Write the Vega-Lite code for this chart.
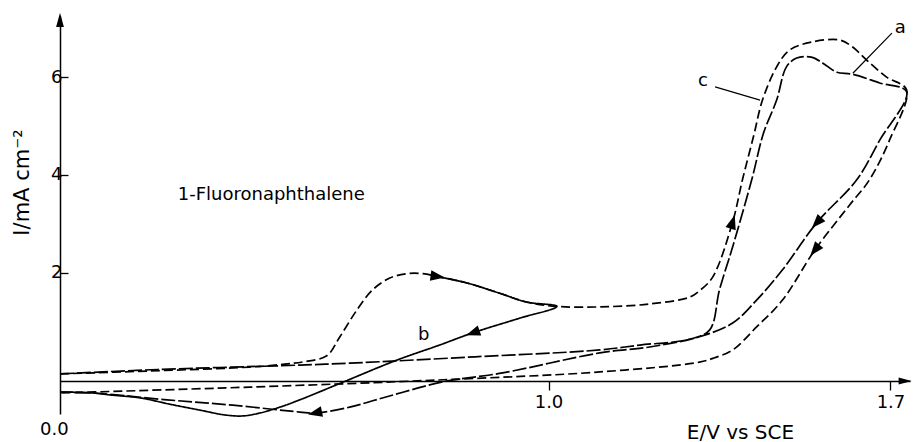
{
  "$schema": "https://vega.github.io/schema/vega-lite/v6.json",
  "width": 850,
  "height": 398,
  "autosize": "none",
  "padding": {"left": 60, "top": 16, "right": 4, "bottom": 28},
  "background": "white",
  "config": {"view": {"stroke": null}},
  "datasets": {
    "curves": [
      {"s":"c","V":0,"I":-0.07},{"s":"c","V":0.184,"I":-0.01},{"s":"c","V":0.389,"I":0.07},{"s":"c","V":0.46,"I":0.13},{"s":"c","V":0.50,"I":0.18},{"s":"c","V":0.546,"I":0.30},{"s":"c","V":0.573,"I":0.69},{"s":"c","V":0.608,"I":1.24},{"s":"c","V":0.640,"I":1.65},{"s":"c","V":0.675,"I":1.89},{"s":"c","V":0.710,"I":1.98},{"s":"c","V":0.743,"I":1.98},{"s":"c","V":0.773,"I":1.92},{"s":"c","V":0.833,"I":1.79},{"s":"c","V":0.900,"I":1.58},{"s":"c","V":0.955,"I":1.40},{"s":"c","V":1.017,"I":1.31},{"s":"c","V":1.105,"I":1.30},{"s":"c","V":1.207,"I":1.36},{"s":"c","V":1.289,"I":1.50},{"s":"c","V":1.309,"I":1.63},{"s":"c","V":1.336,"I":1.91},{"s":"c","V":1.377,"I":3.04},{"s":"c","V":1.397,"I":3.90},{"s":"c","V":1.420,"I":4.80},{"s":"c","V":1.438,"I":5.53},{"s":"c","V":1.467,"I":6.21},{"s":"c","V":1.493,"I":6.55},{"s":"c","V":1.540,"I":6.72},{"s":"c","V":1.596,"I":6.76},{"s":"c","V":1.622,"I":6.62},{"s":"c","V":1.651,"I":6.35},{"s":"c","V":1.692,"I":6.00},{"s":"c","V":1.733,"I":5.74},{"s":"c","V":1.698,"I":4.71},{"s":"c","V":1.657,"I":3.90},{"s":"c","V":1.616,"I":3.38},{"s":"c","V":1.545,"I":2.46},{"s":"c","V":1.479,"I":1.44},{"s":"c","V":1.426,"I":0.89},{"s":"c","V":1.377,"I":0.42},{"s":"c","V":1.340,"I":0.26},{"s":"c","V":1.309,"I":0.17},{"s":"c","V":1.105,"I":-0.03},{"s":"c","V":0.784,"I":-0.19},{"s":"c","V":0.389,"I":-0.34},{"s":"c","V":0,"I":-0.46},
      {"s":"a","V":0,"I":-0.07},{"s":"a","V":0.20,"I":0.02},{"s":"a","V":0.491,"I":0.11},{"s":"a","V":0.593,"I":0.15},{"s":"a","V":0.85,"I":0.28},{"s":"a","V":1.105,"I":0.42},{"s":"a","V":1.187,"I":0.52},{"s":"a","V":1.289,"I":0.64},{"s":"a","V":1.330,"I":0.83},{"s":"a","V":1.350,"I":1.65},{"s":"a","V":1.377,"I":2.53},{"s":"a","V":1.416,"I":3.90},{"s":"a","V":1.440,"I":4.85},{"s":"a","V":1.467,"I":5.53},{"s":"a","V":1.487,"I":6.21},{"s":"a","V":1.508,"I":6.39},{"s":"a","V":1.538,"I":6.41},{"s":"a","V":1.561,"I":6.29},{"s":"a","V":1.590,"I":6.10},{"s":"a","V":1.622,"I":6.06},{"s":"a","V":1.678,"I":5.88},{"s":"a","V":1.733,"I":5.70},{"s":"a","V":1.678,"I":4.71},{"s":"a","V":1.631,"I":3.90},{"s":"a","V":1.549,"I":3.02},{"s":"a","V":1.479,"I":2.06},{"s":"a","V":1.426,"I":1.44},{"s":"a","V":1.377,"I":0.97},{"s":"a","V":1.309,"I":0.69},{"s":"a","V":1.207,"I":0.48},{"s":"a","V":1.105,"I":0.36},{"s":"a","V":0.906,"I":-0.05},{"s":"a","V":0.784,"I":-0.23},{"s":"a","V":0.70,"I":-0.45},{"s":"a","V":0.64,"I":-0.62},{"s":"a","V":0.593,"I":-0.75},{"s":"a","V":0.522,"I":-0.87},{"s":"a","V":0.491,"I":-0.85},{"s":"a","V":0.354,"I":-0.71},{"s":"a","V":0.219,"I":-0.60},{"s":"a","V":0.0675,"I":-0.46},{"s":"a","V":0,"I":-0.44},
      {"s":"b","V":0.773,"I":1.92},{"s":"b","V":0.833,"I":1.79},{"s":"b","V":0.900,"I":1.58},{"s":"b","V":0.955,"I":1.40},{"s":"b","V":1.017,"I":1.31},{"s":"b","V":0.941,"I":1.07},{"s":"b","V":0.845,"I":0.77},{"s":"b","V":0.777,"I":0.52},{"s":"b","V":0.689,"I":0.21},{"s":"b","V":0.579,"I":-0.24},{"s":"b","V":0.491,"I":-0.60},{"s":"b","V":0.450,"I":-0.75},{"s":"b","V":0.409,"I":-0.87},{"s":"b","V":0.374,"I":-0.93},{"s":"b","V":0.338,"I":-0.91},{"s":"b","V":0.286,"I":-0.81},{"s":"b","V":0.225,"I":-0.69},{"s":"b","V":0.164,"I":-0.56},{"s":"b","V":0.102,"I":-0.50},{"s":"b","V":0.0675,"I":-0.46},{"s":"b","V":0,"I":-0.44}
    ],
    "arrows": [
      {"k":"c1","V":0.773,"I":1.92},
      {"k":"b1","V":0.845,"I":0.77},
      {"k":"c2","V":1.377,"I":3.04},
      {"k":"a1","V":1.549,"I":3.02},
      {"k":"c3","V":1.545,"I":2.46},
      {"k":"a2","V":0.522,"I":-0.87},
      {"k":"yaxis","V":0,"I":7.17},
      {"k":"xaxis","V":1.730,"I":-0.215}
    ],
    "notes": [
      {"t":"a","V":1.709,"I":6.90},
      {"t":"c","V":1.306,"I":5.82},
      {"t":"b","V":0.733,"I":0.62},
      {"t":"1-Fluoronaphthalene","V":0.241,"I":3.48},
      {"t":"0.0","V":-0.041,"I":-1.32}
    ],
    "leaders": [
      {"V":1.703,"I":6.90,"V2":1.623,"I2":6.08},
      {"V":1.341,"I":5.80,"V2":1.433,"I2":5.53}
    ]
  },
  "encoding": {
    "x": {"field":"V","type":"quantitative","scale":{"domain":[0,1.74],"nice":false,"zero":false},
      "axis":{"orient":"bottom","offset":-33,"values":[1.0,1.7],"format":".1f","grid":false,"domainColor":"black","domainWidth":1.5,"tickColor":"black","tickWidth":1.3,"tickSize":9,"labelPadding":3,"labelFont":"DejaVu Sans","labelFontSize":18,"labelColor":"black","labelFlush":false,
        "title":"E/V vs SCE","titleFont":"DejaVu Sans","titleFontSize":20,"titleFontWeight":"normal","titleColor":"black","titleX":680,"titleY":51,"titleAlign":"center","titleBaseline":"middle"}},
    "y": {"field":"I","type":"quantitative","scale":{"domain":[-0.89,7.25],"nice":false,"zero":false},
      "axis":{"orient":"left","values":[2,4,6],"format":"d","grid":false,"domainColor":"black","domainWidth":1.5,"tickColor":"black","tickWidth":1.3,"tickSize":-8,"labelPadding":6,"labelFont":"DejaVu Sans","labelFontSize":18,"labelColor":"black",
        "title":"I/mA cm⁻²","titleFont":"DejaVu Sans","titleFontSize":21,"titleFontWeight":"normal","titleColor":"black","titleAngle":-90,"titleX":-38,"titleY":166,"titleAlign":"center","titleBaseline":"middle"}}
  },
  "layer": [
    {"data":{"name":"curves"},"mark":{"type":"line","color":"black","strokeWidth":1.7,"interpolate":"catmull-rom"},
     "encoding":{"strokeDash":{"field":"s","type":"nominal","scale":{"domain":["a","b","c"],"range":[[14,3],[1,0],[9,4]]},"legend":null},"order":{"value":null}}},
    {"data":{"name":"leaders"},"mark":{"type":"rule","color":"black","strokeWidth":1.2},"encoding":{"x2":{"field":"V2"},"y2":{"field":"I2"}}},
    {"data":{"name":"arrows"},"transform":[{"filter":"datum.k=='c1'"}],"mark":{"type":"point","shape":"M0,-1L0.75,1L-0.75,1Z","filled":true,"color":"black","opacity":1,"size":200,"angle":98}},
    {"data":{"name":"arrows"},"transform":[{"filter":"datum.k=='b1'"}],"mark":{"type":"point","shape":"M0,-1L0.75,1L-0.75,1Z","filled":true,"color":"black","opacity":1,"size":200,"angle":251}},
    {"data":{"name":"arrows"},"transform":[{"filter":"datum.k=='c2'"}],"mark":{"type":"point","shape":"M0,-1L0.75,1L-0.75,1Z","filled":true,"color":"black","opacity":1,"size":200,"angle":17}},
    {"data":{"name":"arrows"},"transform":[{"filter":"datum.k=='a1'"}],"mark":{"type":"point","shape":"M0,-1L0.75,1L-0.75,1Z","filled":true,"color":"black","opacity":1,"size":200,"angle":223}},
    {"data":{"name":"arrows"},"transform":[{"filter":"datum.k=='c3'"}],"mark":{"type":"point","shape":"M0,-1L0.75,1L-0.75,1Z","filled":true,"color":"black","opacity":1,"size":200,"angle":219}},
    {"data":{"name":"arrows"},"transform":[{"filter":"datum.k=='a2'"}],"mark":{"type":"point","shape":"M0,-1L0.75,1L-0.75,1Z","filled":true,"color":"black","opacity":1,"size":200,"angle":258}},
    {"data":{"name":"arrows"},"transform":[{"filter":"datum.k=='yaxis'"}],"mark":{"type":"point","shape":"M0,-1L0.55,1L-0.55,1Z","filled":true,"color":"black","opacity":1,"size":200,"angle":0}},
    {"data":{"name":"arrows"},"transform":[{"filter":"datum.k=='xaxis'"}],"mark":{"type":"point","shape":"M0,-1L0.55,1L-0.55,1Z","filled":true,"color":"black","opacity":1,"size":170,"angle":90}},
    {"data":{"name":"notes"},"mark":{"type":"text","align":"left","baseline":"alphabetic","font":"DejaVu Sans","fontSize":18,"color":"black"},"encoding":{"text":{"field":"t","type":"nominal"}}}
  ]
}
